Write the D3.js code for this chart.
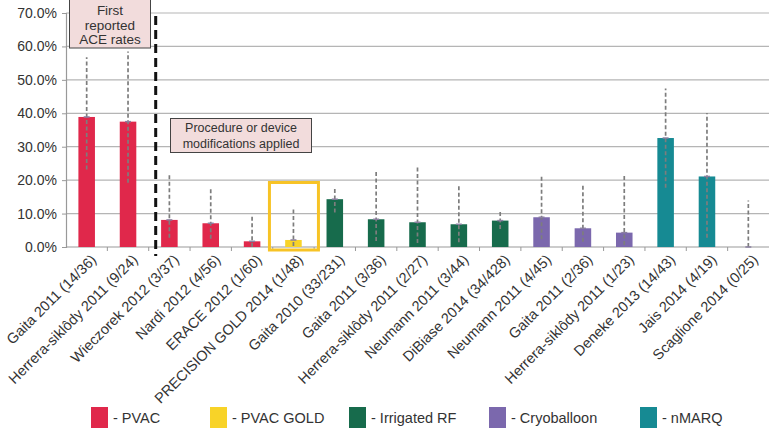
<!DOCTYPE html>
<html><head><meta charset="utf-8">
<script src="https://cdn.jsdelivr.net/npm/d3@7"></script>
<style>
html,body{margin:0;padding:0;background:#fff;}
svg{display:block;font-family:"Liberation Sans",Arial,Helvetica,sans-serif;}
</style></head>
<body><svg id="c" width="769" height="428"></svg>
<script>
const categories = ["Gaita 2011 (14/36)","Herrera-siklôdy 2011 (9/24)","Wieczorek 2012 (3/37)","Nardi 2012 (4/56)","ERACE 2012 (1/60)","PRECISION GOLD 2014 (1/48)","Gaita 2010 (33/231)","Gaita 2011 (3/36)","Herrera-siklôdy 2011 (2/27)","Neumann 2011 (3/44)","DiBiase 2014 (34/428)","Neumann 2011 (4/45)","Gaita 2011 (2/36)","Herrera-siklôdy 2011 (1/23)","Deneke 2013 (14/43)","Jais 2014 (4/19)","Scaglione 2014 (0/25)"];
const groups = ["PVAC","PVAC","PVAC","PVAC","PVAC","PVAC GOLD","Irrigated RF","Irrigated RF","Irrigated RF","Irrigated RF","Irrigated RF","Cryoballoon","Cryoballoon","Cryoballoon","nMARQ","nMARQ","nMARQ"];
const values = [38.9, 37.5, 8.1, 7.1, 1.7, 2.1, 14.3, 8.3, 7.4, 6.8, 7.9, 8.9, 5.6, 4.3, 32.6, 21.1, 0];
const ciLow  = [23.2, 19.2, 2.8, 2.5, 0.1, 0.3, 10.3, 1.8, 1.2, 1.4, 5.4, 2.3, 1.6, 0.6, 17.7, 2.8, 0];
const ciHigh = [56.8, 58.5, 22.0, 17.5, 9.1, 11.4, 17.7, 22.7, 24.5, 18.9, 11.0, 21.5, 18.9, 22.0, 47.4, 40.1, 13.9];
const yTicks = [0,10,20,30,40,50,60,70];
const yTickLabels = ["0.0%","10.0%","20.0%","30.0%","40.0%","50.0%","60.0%","70.0%"];
const legendNames = ["PVAC","PVAC GOLD","Irrigated RF","Cryoballoon","nMARQ"];
const legendColors = ["#e0284b","#f8d328","#176b4c","#7b68ad","#168a93"];

const svg = d3.select("#c");
const x = d3.scaleBand().domain(d3.range(categories.length)).range([66, 769]).paddingInner(0.6).paddingOuter(0.3);
const y = d3.scaleLinear().domain([0, 70]).range([247, 13]);
const color = d3.scaleOrdinal().domain(legendNames).range(legendColors);

// gridlines
svg.append("g").selectAll("line").data(yTicks.slice(1)).join("line")
  .attr("x1", 66).attr("x2", 769).attr("y1", d => y(d)).attr("y2", d => y(d))
  .attr("stroke", "#b5b5b5").attr("stroke-width", 1.2);

// y axis
const ya = svg.append("g").attr("transform", "translate(66,0)")
  .call(d3.axisLeft(y).tickValues(yTicks).tickFormat((d,i) => yTickLabels[i]).tickSize(4).tickPadding(5));
ya.attr("font-family", null).attr("font-size", null);
ya.select(".domain").attr("stroke", "#999").attr("stroke-width", 1.2);
ya.selectAll(".tick line").attr("stroke", "#999");
ya.selectAll(".tick text").attr("font-size", 14).attr("fill", "#333");

// x axis baseline + boundary ticks
const step = x.step();
svg.append("line").attr("x1", 66).attr("x2", 769).attr("y1", y(0)).attr("y2", y(0)).attr("stroke", "#999").attr("stroke-width", 1.2);
svg.append("g").selectAll("line").data(d3.range(1, categories.length)).join("line")
  .attr("x1", i => x(i) + x.bandwidth()/2 - step/2).attr("x2", i => x(i) + x.bandwidth()/2 - step/2)
  .attr("y1", y(0)).attr("y2", y(0) + 4).attr("stroke", "#999");

// bars
svg.append("g").selectAll("rect").data(values).join("rect")
  .attr("x", (d,i) => x(i)).attr("width", x.bandwidth())
  .attr("y", d => y(d)).attr("height", d => y(0) - y(d))
  .attr("fill", (d,i) => color(groups[i]));

// error bars
const eb = svg.append("g");
eb.selectAll("line.ci").data(values).join("line").attr("class","ci")
  .attr("x1", (d,i) => x(i) + x.bandwidth()/2).attr("x2", (d,i) => x(i) + x.bandwidth()/2)
  .attr("y1", (d,i) => y(ciLow[i])).attr("y2", (d,i) => y(ciHigh[i]))
  .attr("stroke", "#7d7d7d").attr("stroke-width", 1.7).attr("stroke-dasharray", "4,2.5");
eb.selectAll("line.cap").data(values).join("line").attr("class","cap")
  .attr("x1", (d,i) => x(i) + x.bandwidth()/2 - 3).attr("x2", (d,i) => x(i) + x.bandwidth()/2 + 3)
  .attr("y1", d => y(d)).attr("y2", d => y(d))
  .attr("stroke", "#8a7fa0").attr("stroke-width", 1.5);

// x labels
svg.append("g").selectAll("text").data(categories).join("text")
  .attr("transform", (d,i) => `translate(${x(i) + x.bandwidth()/2 + 7},${y(0) + 10}) rotate(-45)`)
  .attr("text-anchor", "end").attr("dy", "0.35em")
  .attr("font-size", 14.5).attr("fill", "#333").text(d => d);

// yellow highlight box around PRECISION GOLD
const gi = groups.indexOf("PVAC GOLD");
const gc = x(gi) + x.bandwidth()/2;
svg.append("rect").attr("x", gc - 24).attr("y", y(19.3)).attr("width", 49).attr("height", y(0) + 3 - y(19.3))
  .attr("fill", "none").attr("stroke", "#f7c325").attr("stroke-width", 3);

// black dashed divider
const dv = x(2) + x.bandwidth()/2 - step/2 + 7;
svg.append("line").attr("x1", dv).attr("x2", dv).attr("y1", 16).attr("y2", 256)
  .attr("stroke", "#111").attr("stroke-width", 3).attr("stroke-dasharray", "9,5");

// annotation boxes
function note(x0, y0, w, h, lines, ys, fs) {
  const g = svg.append("g");
  g.append("rect").attr("x", x0).attr("y", y0).attr("width", w).attr("height", h)
    .attr("fill", "#f2dcdc").attr("stroke", "#444").attr("stroke-width", 1);
  g.selectAll("text").data(lines).join("text")
    .attr("x", x0 + w/2).attr("y", (d,i) => ys[i]).attr("text-anchor", "middle")
    .attr("font-size", fs).attr("fill", "#333").text(d => d);
}
note(69.5, -1, 81, 49, ["First","reported","ACE rates"], [15, 30, 44], 13.5);
note(170.5, 118.5, 141, 34, ["Procedure or device","modifications applied"], [132, 148], 12.5);

// legend
const legX = [91, 210, 349, 489, 640];
const lg = svg.append("g");
legendNames.forEach((n, i) => {
  lg.append("rect").attr("x", legX[i]).attr("y", 407).attr("width", 17).attr("height", 22).attr("fill", legendColors[i]);
  lg.append("text").attr("x", legX[i] + 22).attr("y", 423).attr("font-size", 14.5).attr("fill", "#333").text("- " + n);
});
</script></body></html>
